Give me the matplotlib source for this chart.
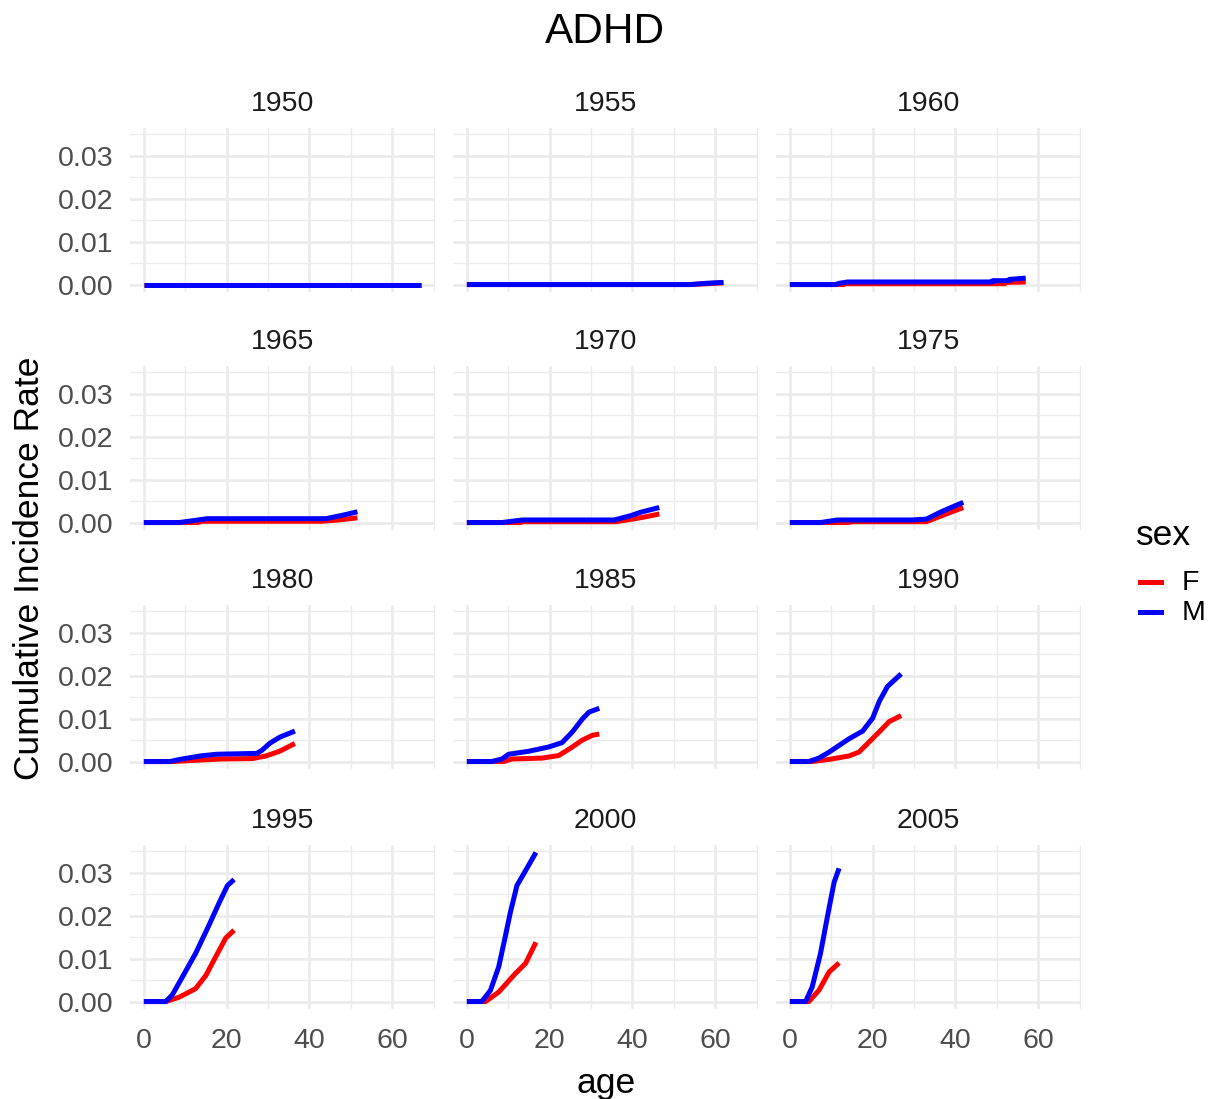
import matplotlib
matplotlib.use('Agg')
import matplotlib.pyplot as plt
from matplotlib.lines import Line2D
from matplotlib.ticker import MultipleLocator

plt.rcParams['font.family'] = ['Liberation Sans', 'DejaVu Sans']

TITLE = 'ADHD'
COHORTS = [1950, 1955, 1960, 1965, 1970, 1975, 1980, 1985, 1990, 1995, 2000, 2005]
SEXES = ['F', 'M']
SEX_COLORS = {'F': '#FF0000', 'M': '#0000FF'}

# cumulative incidence by age, one pair of lists per birth cohort and sex
age_1950_f = [0, 67]
cir_1950_f = [0, 0]
age_1950_m = [0, 67]
cir_1950_m = [0, 0]

age_1955_f = [0, 54, 58, 62]
cir_1955_f = [0, 0, 0.0002, 0.0004]
age_1955_m = [0, 54, 58, 62]
cir_1955_m = [0, 0, 0.0003, 0.0005]

age_1960_f = [0, 13, 13, 52, 52, 57]
cir_1960_f = [0, 0, 0.0002, 0.0002, 0.0005, 0.0006]
age_1960_m = [0, 11, 12, 14, 49, 49, 53, 53, 57]
cir_1960_m = [0, 0, 0.0003, 0.0006, 0.0006, 0.0009, 0.0009, 0.0012, 0.0015]

age_1965_f = [0, 13, 14, 43, 47, 51.6]
cir_1965_f = [0, 0, 0.0003, 0.0003, 0.0006, 0.0011]
age_1965_m = [0, 8.5, 11.6, 15.3, 44, 48, 51.6]
cir_1965_m = [0, 0, 0.0004, 0.0009, 0.0009, 0.0017, 0.0025]

age_1970_f = [0, 13, 13.5, 36, 40, 43, 46.5]
cir_1970_f = [0, 0, 0.0002, 0.0002, 0.0008, 0.0013, 0.0020]
age_1970_m = [0, 8.5, 13.4, 35.6, 39.6, 42, 46.5]
cir_1970_m = [0, 0, 0.0006, 0.0006, 0.0016, 0.0024, 0.0035]

age_1975_f = [0, 14, 15, 33, 37, 41.9]
cir_1975_f = [0, 0, 0.0002, 0.0002, 0.0017, 0.0035]
age_1975_m = [0, 7.4, 11.5, 29.4, 33, 37, 41.9]
cir_1975_m = [0, 0, 0.0006, 0.0006, 0.0008, 0.0027, 0.0047]

age_1980_f = [0, 7, 12.5, 19, 26.3, 29.5, 32.8, 36.5]
cir_1980_f = [0, 0, 0.0003, 0.0006, 0.0007, 0.0013, 0.0024, 0.0042]
age_1980_m = [0, 6.3, 8.7, 13.6, 17.6, 27.3, 28.5, 30.5, 32.9, 36.5]
cir_1980_m = [0, 0, 0.0005, 0.0013, 0.0017, 0.0019, 0.0026, 0.0043, 0.0057, 0.0071]

age_1985_f = [0, 8.9, 10.9, 18.2, 22.2, 25.5, 27.9, 30.3, 32]
cir_1985_f = [0, 0, 0.0006, 0.0008, 0.0014, 0.0034, 0.0050, 0.0061, 0.0064]
age_1985_m = [0, 6, 8.5, 10.1, 15, 19.8, 23, 25.5, 27.9, 29.5, 32]
cir_1985_m = [0, 0, 0.0006, 0.0017, 0.0024, 0.0034, 0.0044, 0.0069, 0.0099, 0.0115, 0.0124]

age_1990_f = [0, 5.3, 9.5, 14.3, 16.7, 19.2, 21.6, 24, 26.9]
cir_1990_f = [0, 0, 0.0005, 0.0013, 0.0022, 0.0046, 0.0069, 0.0093, 0.0107]
age_1990_m = [0, 4.6, 7, 9.5, 14.3, 17.6, 20, 21.6, 23.6, 26.9]
cir_1990_m = [0, 0, 0.0008, 0.0022, 0.0053, 0.0071, 0.0101, 0.0140, 0.0175, 0.0204]

age_1995_f = [0, 5.3, 8.5, 12.5, 15, 17.4, 19.8, 21.8]
cir_1995_f = [0, 0, 0.0010, 0.0030, 0.0061, 0.0105, 0.0148, 0.0166]
age_1995_m = [0, 5.3, 6.9, 9.3, 12.5, 15.8, 18.2, 20.2, 21.8]
cir_1995_m = [0, 0, 0.0016, 0.0057, 0.0112, 0.0179, 0.0230, 0.0270, 0.0284]

age_2000_f = [0, 4.5, 7.7, 11.7, 14.2, 16.7]
cir_2000_f = [0, 0, 0.0022, 0.0065, 0.0089, 0.0138]
age_2000_m = [0, 3.6, 5.7, 7.7, 9.3, 10.5, 12.1, 14.2, 16.7]
cir_2000_m = [0, 0, 0.0026, 0.0081, 0.0152, 0.0207, 0.0270, 0.0305, 0.0347]

age_2005_f = [0, 4.6, 7, 9.5, 11.9]
cir_2005_f = [0, 0, 0.0026, 0.0069, 0.0090]
age_2005_m = [0, 3.8, 5.4, 7.4, 9.1, 10.7, 11.9]
cir_2005_m = [0, 0, 0.0034, 0.0112, 0.0199, 0.0278, 0.0310]

series = {
    (1950, 'F'): (age_1950_f, cir_1950_f), (1950, 'M'): (age_1950_m, cir_1950_m),
    (1955, 'F'): (age_1955_f, cir_1955_f), (1955, 'M'): (age_1955_m, cir_1955_m),
    (1960, 'F'): (age_1960_f, cir_1960_f), (1960, 'M'): (age_1960_m, cir_1960_m),
    (1965, 'F'): (age_1965_f, cir_1965_f), (1965, 'M'): (age_1965_m, cir_1965_m),
    (1970, 'F'): (age_1970_f, cir_1970_f), (1970, 'M'): (age_1970_m, cir_1970_m),
    (1975, 'F'): (age_1975_f, cir_1975_f), (1975, 'M'): (age_1975_m, cir_1975_m),
    (1980, 'F'): (age_1980_f, cir_1980_f), (1980, 'M'): (age_1980_m, cir_1980_m),
    (1985, 'F'): (age_1985_f, cir_1985_f), (1985, 'M'): (age_1985_m, cir_1985_m),
    (1990, 'F'): (age_1990_f, cir_1990_f), (1990, 'M'): (age_1990_m, cir_1990_m),
    (1995, 'F'): (age_1995_f, cir_1995_f), (1995, 'M'): (age_1995_m, cir_1995_m),
    (2000, 'F'): (age_2000_f, cir_2000_f), (2000, 'M'): (age_2000_m, cir_2000_m),
    (2005, 'F'): (age_2005_f, cir_2005_f), (2005, 'M'): (age_2005_m, cir_2005_m),
}

W, H = 1212, 1099


def fx(px):
    return px / W


def fy(py):
    return 1 - py / H


def main():
    fig = plt.figure(figsize=(W / 100, H / 100), dpi=100)
    fig.patch.set_facecolor('white')

    col_left = [130, 453, 776]
    row_top = [128, 366, 605, 845]
    pw, ph = 305, 164

    # shared scales with 5% expansion, as in ggplot
    xmax = max(max(a) for a, _ in series.values())
    ymax = max(max(v) for _, v in series.values())
    xlim = (-0.05 * xmax, 1.05 * xmax)
    ylim = (-0.05 * ymax, 1.05 * ymax)

    for i, cohort in enumerate(COHORTS):
        r, c = divmod(i, 3)
        left, top = col_left[c], row_top[r]
        ax = fig.add_axes([fx(left), fy(top + ph), pw / W, ph / H])
        ax.set_facecolor('white')
        for s in ax.spines.values():
            s.set_visible(False)
        ax.xaxis.set_major_locator(MultipleLocator(20))
        ax.xaxis.set_minor_locator(MultipleLocator(10))
        ax.yaxis.set_major_locator(MultipleLocator(0.01))
        ax.yaxis.set_minor_locator(MultipleLocator(0.005))
        ax.grid(which='major', color='#EBEBEB', lw=1.9)
        ax.grid(which='minor', color='#EBEBEB', lw=1.0)
        ax.set_axisbelow(True)
        ax.tick_params(which='both', length=0, labelsize=20.5,
                       labelcolor='#4D4D4D', pad=12)
        ax.tick_params(axis='x', pad=14)
        if c == 0:
            ax.yaxis.set_major_formatter(lambda v, p: f'{v:.2f}')
        else:
            ax.tick_params(labelleft=False)
        if r == 3:
            ax.xaxis.set_major_formatter(lambda v, p: f'{v:.0f}')
        else:
            ax.tick_params(labelbottom=False)

        for sex in SEXES:
            ages, vals = series[(cohort, sex)]
            ax.plot(ages, vals, color=SEX_COLORS[sex], lw=3.6,
                    solid_capstyle='butt', solid_joinstyle='round')
        ax.set_xlim(*xlim)
        ax.set_ylim(*ylim)

        fig.text(fx(left + pw / 2), fy(top - 24), str(cohort),
                 ha='center', va='center', fontsize=20.5, color='#1A1A1A')

    fig.text(fx(605), fy(32), TITLE, ha='center', va='center',
             fontsize=30.5, color='black')
    fig.text(fx(606), fy(1083), 'age', ha='center', va='center',
             fontsize=25.5, color='black')
    fig.text(fx(30), fy(568), 'Cumulative Incidence Rate', ha='center',
             va='center', rotation=90, fontsize=25.5, color='black')

    # legend
    fig.text(fx(1136), fy(536), 'sex', ha='left', va='center',
             fontsize=25.5, color='black')
    for sex, y in zip(SEXES, [582, 612]):
        fig.add_artist(Line2D([fx(1140), fx(1161)], [fy(y), fy(y)],
                              color=SEX_COLORS[sex], lw=3.6,
                              transform=fig.transFigure))
        fig.text(fx(1182), fy(y + 1), sex, ha='left', va='center',
                 fontsize=20.5, color='black')

    fig.savefig('out.png', dpi=100, facecolor='white')


if __name__ == '__main__':
    main()
